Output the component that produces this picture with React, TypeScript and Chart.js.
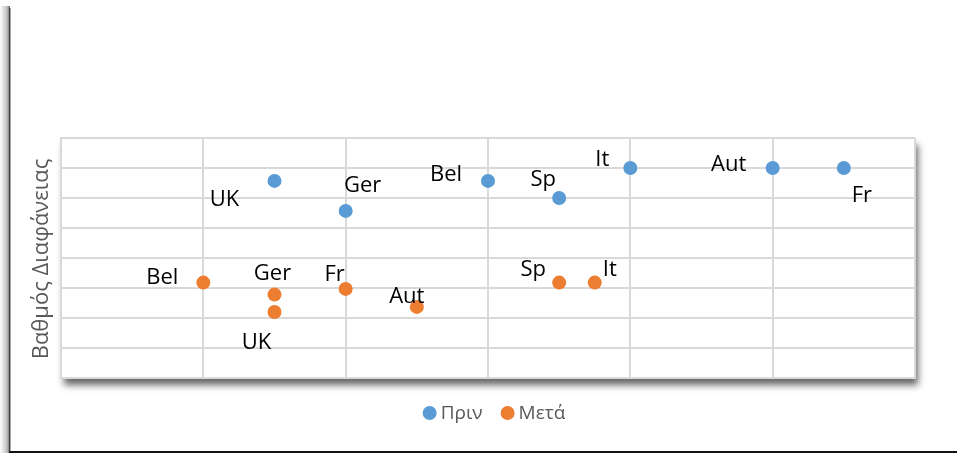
import React, { useEffect, useRef } from "react";
import { Chart, registerables } from "chart.js";

Chart.register(...registerables);

// ---- data ----
const seriesNames = ["Πριν", "Μετά"];
const axisTitle = "Βαθμός Διαφάνειας";

const beforeLabels = ["UK", "Ger", "Bel", "Sp", "It", "Aut", "Fr"];
const beforeX = [1.5, 2, 3, 3.5, 4, 5, 5.5];
const beforeY = [6.57, 5.57, 6.57, 6, 7, 7, 7];

const afterLabels = ["Bel", "Ger", "UK", "Fr", "Aut", "Sp", "It"];
const afterX = [1, 1.5, 1.5, 2, 2.5, 3.5, 3.75];
const afterY = [3.18, 2.78, 2.2, 2.97, 2.37, 3.18, 3.18];

// label offsets (pixels from marker centre to label centre)
const beforeLabelOffsets = [[-50, 17], [17, -27], [-42, -8], [-16, -20], [-28, -10], [-44, -5], [18, 26]];
const afterLabelOffsets = [[-41, -7], [-2, -23], [-18, 29], [-11, -16], [-10, -12], [-26, -15], [15, -15]];

const BLUE = "#5B9BD5";
const ORANGE = "#ED7D31";
const FONT = "'Open Sans', 'Noto Sans', sans-serif";

const framePlugin = {
  id: "framePlugin",
  beforeDraw(chart: any) {
    const { ctx, chartArea: a, width, height } = chart;
    ctx.save();
    ctx.fillStyle = "#ffffff";
    ctx.fillRect(0, 0, width, height);
    // outer frame: left shaded edge
    const g = ctx.createLinearGradient(0, 0, 10, 0);
    g.addColorStop(0, "rgba(0,0,0,0)");
    g.addColorStop(0.7, "rgba(0,0,0,0.25)");
    g.addColorStop(1, "rgba(0,0,0,0.6)");
    ctx.fillStyle = g;
    ctx.fillRect(0, 6, 10, height - 6);
    ctx.fillStyle = "rgba(60,60,60,0.9)";
    ctx.fillRect(9, 8, 1.5, height - 8);
    // bottom black line
    ctx.fillStyle = "#111";
    ctx.fillRect(9, height - 2, width - 9, 2);
    // plot area with shadow
    ctx.shadowColor = "rgba(0,0,0,0.6)";
    ctx.shadowBlur = 7;
    ctx.shadowOffsetX = 3;
    ctx.shadowOffsetY = 7;
    ctx.fillStyle = "#ffffff";
    ctx.fillRect(a.left, a.top, a.right - a.left, a.bottom - a.top);
    ctx.restore();
  },
  afterDraw(chart: any) {
    const { ctx, chartArea: a } = chart;
    ctx.save();
    // data labels
    ctx.font = `22px ${FONT}`;
    ctx.fillStyle = "#000000";
    ctx.textAlign = "center";
    ctx.textBaseline = "middle";
    const sets = [
      { labels: beforeLabels, offs: beforeLabelOffsets },
      { labels: afterLabels, offs: afterLabelOffsets },
    ];
    sets.forEach((s, di) => {
      const meta = chart.getDatasetMeta(di);
      meta.data.forEach((pt: any, i: number) => {
        ctx.fillText(s.labels[i], pt.x + s.offs[i][0], pt.y + s.offs[i][1] + 2);
      });
    });
    // y axis title
    ctx.save();
    ctx.translate(42, (a.top + a.bottom) / 2 + 1);
    ctx.rotate(-Math.PI / 2);
    ctx.font = `22px ${FONT}`;
    ctx.fillStyle = "#595959";
    ctx.fillText(axisTitle, 0, 0);
    ctx.restore();
    // legend
    ctx.font = `19px ${FONT}`;
    ctx.textAlign = "left";
    ctx.textBaseline = "middle";
    const r = 7;
    const gapMarker = 4;
    const gapItems = 18;
    const colors = [BLUE, ORANGE];
    const widths = seriesNames.map((n) => ctx.measureText(n).width);
    const total = widths.reduce((s, w) => s + w, 0) + seriesNames.length * (2 * r + gapMarker) + gapItems * (seriesNames.length - 1);
    let x = (a.left + a.right) / 2 + 6 - total / 2;
    const y = 413;
    seriesNames.forEach((n, i) => {
      ctx.beginPath();
      ctx.arc(x + r, y, r, 0, Math.PI * 2);
      ctx.fillStyle = colors[i];
      ctx.fill();
      x += 2 * r + gapMarker;
      ctx.fillStyle = "#595959";
      ctx.fillText(n, x, y + 1);
      x += widths[i] + gapItems;
    });
    ctx.restore();
  },
};

export default function App() {
  const ref = useRef<HTMLCanvasElement | null>(null);
  useEffect(() => {
    if (!ref.current) return;
    const chart = new Chart(ref.current, {
      type: "scatter",
      data: {
        datasets: [
          {
            label: seriesNames[0],
            data: beforeX.map((x, i) => ({ x, y: beforeY[i] })),
            backgroundColor: BLUE,
            borderColor: BLUE,
            pointRadius: 7,
            pointHoverRadius: 7,
            borderWidth: 0,
          },
          {
            label: seriesNames[1],
            data: afterX.map((x, i) => ({ x, y: afterY[i] })),
            backgroundColor: ORANGE,
            borderColor: ORANGE,
            pointRadius: 7,
            pointHoverRadius: 7,
            borderWidth: 0,
          },
        ],
      },
      options: {
        responsive: false,
        animation: false,
        layout: { padding: { left: 61, top: 138, right: 42, bottom: 75 } },
        plugins: {
          legend: { display: false },
          tooltip: { enabled: false },
        },
        scales: {
          x: {
            type: "linear",
            min: 0,
            max: 6,
            ticks: { display: false, stepSize: 1 },
            grid: { color: "#d9d9d9", lineWidth: 2, drawTicks: false },
            border: { display: true, color: "#d9d9d9", width: 2 },
          },
          y: {
            type: "linear",
            min: 0,
            max: 8,
            ticks: { display: false, stepSize: 1 },
            grid: { color: "#d9d9d9", lineWidth: 2, drawTicks: false },
            border: { display: true, color: "#d9d9d9", width: 2 },
          },
        },
      },
      plugins: [framePlugin],
    });
    return () => chart.destroy();
  }, []);
  return (
    <div style={{ position: "absolute", left: 0, top: 0, width: 957, height: 453 }}>
      <canvas ref={ref} width={957} height={453} style={{ display: "block" }} />
    </div>
  );
}
